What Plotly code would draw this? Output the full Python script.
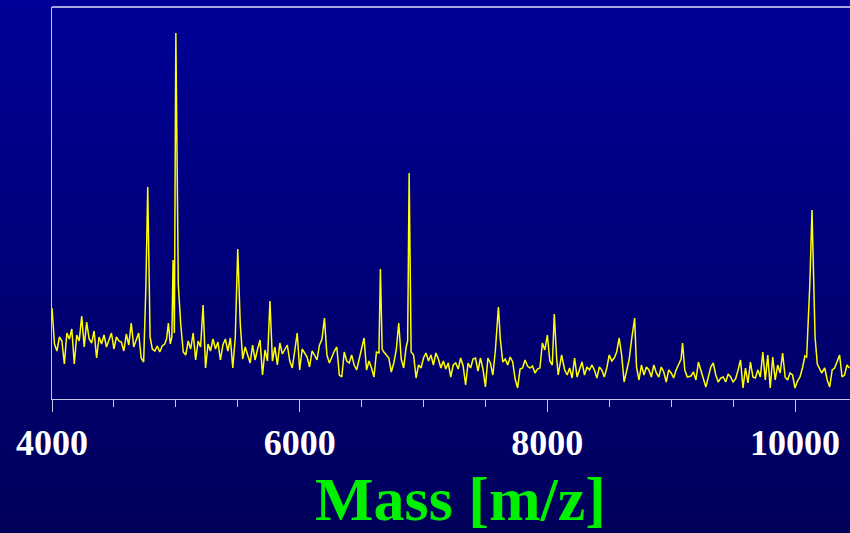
import plotly.graph_objects as go

# ---- data: mass spectrum (m/z vs relative intensity, arbitrary units) ----
MASS_1 = [4000, 4020, 4040, 4060, 4080, 4100, 4120, 4140, 4160, 4180, 4200, 4220, 4240, 4260,
          4280, 4300, 4320, 4340, 4360, 4380, 4400, 4420, 4440, 4460, 4480, 4500, 4520, 4540,
          4560, 4580, 4600, 4620, 4640, 4660, 4680, 4700, 4720, 4740]
INT_1 = [91, 55, 48, 62, 58, 35, 66, 60, 70, 35, 64, 58, 83, 52,
         77, 60, 56, 68, 41, 62, 55, 64, 52, 60, 66, 50, 62, 58,
         57, 48, 65, 54, 76, 52, 60, 66, 41, 37]

MASS_2 = [4758, 4773, 4792, 4810, 4830, 4850, 4870, 4890, 4910, 4925, 4940, 4955, 4968, 4978,
          4988, 5000, 5020, 5040, 5060, 5080, 5100, 5120, 5140, 5160, 5180, 5200, 5220, 5240, 5260]
INT_2 = [111, 212, 62, 50, 48, 53, 47, 53, 55, 60, 76, 55, 62, 139,
         66, 366, 114, 74, 47, 44, 58, 50, 66, 39, 58, 52, 94, 31, 55]

MASS_3 = [5280, 5300, 5320, 5340, 5360, 5380, 5400, 5420, 5440, 5460, 5480, 5500, 5520, 5540,
          5560, 5580, 5600, 5620, 5640, 5660, 5680, 5700, 5720, 5740, 5760, 5780, 5800, 5820,
          5840, 5860, 5880, 5900, 5920, 5940, 5960, 5980, 6000, 6020, 6040, 6060, 6080, 6100,
          6120, 6140, 6160, 6180, 6200, 6220, 6240, 6260, 6280, 6300, 6320, 6340, 6360, 6380,
          6400, 6420, 6440, 6460, 6480, 6500, 6520, 6540, 6560, 6580, 6600, 6620, 6640]
INT_3 = [48, 60, 50, 57, 39, 54, 60, 48, 61, 31, 62, 150, 76, 40,
         52, 44, 36, 54, 39, 50, 59, 24, 49, 38, 98, 38, 52, 34,
         56, 45, 50, 54, 38, 31, 48, 66, 29, 50, 46, 42, 32, 48,
         44, 39, 54, 60, 81, 44, 36, 42, 48, 52, 24, 22, 47, 38,
         36, 44, 34, 29, 40, 50, 61, 29, 38, 31, 22, 47, 46]

MASS_4 = [6652, 6666, 6680, 6700, 6720, 6740, 6760, 6780, 6800, 6820, 6840, 6860, 6872, 6884,
          6900, 6920, 6940, 6960, 6980, 7000, 7020, 7040, 7060, 7080, 7100, 7120, 7140, 7160,
          7180, 7200, 7220, 7240, 7260, 7280, 7300, 7320, 7340, 7360, 7380, 7400, 7420, 7440,
          7460, 7480, 7500, 7520, 7540, 7560, 7580, 7605, 7620, 7640, 7660, 7680, 7700, 7720,
          7740, 7760, 7780, 7800, 7820, 7840]
INT_4 = [130, 50, 47, 44, 41, 27, 36, 49, 76, 40, 31, 52, 58, 226,
         47, 44, 21, 34, 31, 41, 46, 38, 44, 34, 46, 40, 31, 38,
         30, 36, 22, 34, 36, 30, 41, 33, 14, 36, 31, 40, 41, 28,
         41, 30, 12, 41, 36, 24, 48, 92, 60, 37, 40, 34, 42, 37,
         20, 11, 30, 31, 39, 33]

MASS_5 = [7860, 7880, 7900, 7920, 7940, 7960, 7980, 8000, 8020, 8040, 8056, 8075, 8088, 8115,
          8140, 8160, 8180, 8200, 8220, 8240, 8260, 8280, 8300, 8320, 8340, 8360, 8380, 8400,
          8420, 8440, 8460, 8480, 8500, 8520, 8540, 8560, 8580, 8600, 8620, 8640, 8660, 8680,
          8705, 8720, 8740, 8760, 8780, 8800, 8820, 8840, 8860, 8880, 8900, 8920, 8940, 8960,
          8980, 9000, 9020, 9040, 9060, 9080, 9092, 9110, 9130]
INT_5 = [31, 33, 26, 30, 31, 56, 49, 64, 38, 34, 85, 41, 24, 44,
         29, 24, 31, 21, 41, 22, 30, 37, 24, 32, 29, 34, 29, 21,
         32, 29, 22, 31, 44, 38, 41, 47, 61, 44, 17, 29, 39, 59,
         81, 32, 19, 34, 24, 32, 29, 22, 34, 26, 22, 32, 27, 17,
         29, 26, 21, 29, 34, 40, 56, 29, 22]

MASS_6 = [9160, 9180, 9200, 9220, 9240, 9260, 9280, 9300, 9320, 9340, 9360, 9380, 9400, 9420,
          9440, 9460, 9480, 9500, 9520, 9540, 9560, 9580, 9600, 9620, 9640, 9660, 9680, 9700,
          9720, 9740, 9760, 9780, 9800, 9820, 9840, 9860, 9880, 9900, 9920, 9940, 9960, 9980,
          10000, 10020, 10040, 10060, 10080, 10094, 10120, 10137, 10162, 10180, 10195, 10215,
          10240, 10260, 10280, 10300, 10320, 10340, 10360, 10380, 10400, 10420, 10440]
INT_6 = [23, 27, 19, 37, 28, 21, 12, 22, 32, 36, 24, 17, 21, 22,
         17, 25, 22, 17, 20, 29, 39, 11, 31, 16, 37, 22, 21, 29,
         22, 47, 19, 44, 11, 42, 19, 34, 26, 46, 22, 19, 26, 24,
         11, 18, 22, 31, 43, 42, 116, 189, 62, 35, 31, 26,
         31, 19, 12, 29, 31, 38, 44, 22, 24, 34, 31]

MASS = MASS_1 + MASS_2 + MASS_3 + MASS_4 + MASS_5 + MASS_6
INTENSITY = INT_1 + INT_2 + INT_3 + INT_4 + INT_5 + INT_6

X_RANGE = [4000, 10444]
Y_RANGE = [0, 392]
X_TITLE = "Mass [m/z]"

# ---- figure ----
W, H = 850, 533
ML, MR, MT, MB = 52, 0, 7, 134
plot_h = H - MT - MB

fig = go.Figure()
fig.add_trace(go.Scatter(x=MASS, y=INTENSITY, mode="lines",
                         line=dict(color="#FFFF00", width=1.5),
                         hoverinfo="skip"))

# vertical background gradient (paper coords, covers whole page)
shapes = []
n_bands = 107
top_c, bot_c = 152, 90
for k in range(n_bands):
    p0 = k * H / n_bands
    p1 = (k + 1) * H / n_bands + 0.6
    t = (k + 0.5) / n_bands
    b = round(top_c + (bot_c - top_c) * t)
    shapes.append(dict(type="rect", xref="paper", yref="paper",
                       x0=-ML / (W - ML - MR) - 0.01, x1=1.01,
                       y0=(H - MB - p1) / plot_h, y1=(H - MB - p0) / plot_h,
                       fillcolor=f"rgb(0,0,{b})", line=dict(width=0), layer="below"))
# top frame line
shapes.append(dict(type="line", xref="paper", yref="paper", x0=0, x1=1, y0=1, y1=1,
                   line=dict(color="#A8A8DC", width=2), layer="above"))

axis_col = "#C8C8E6"
fig.update_layout(
    width=W, height=H,
    margin=dict(l=ML, r=MR, t=MT, b=MB, pad=0),
    paper_bgcolor="rgb(0,0,110)",
    plot_bgcolor="rgba(0,0,0,0)",
    showlegend=False,
    shapes=shapes,
    xaxis=dict(range=X_RANGE, showline=True, linecolor=axis_col, linewidth=1,
               ticks="outside", ticklen=12, tickwidth=1, tickcolor=axis_col,
               tick0=4000, dtick=2000, tickformat="d", showgrid=False, zeroline=False,
               tickfont=dict(family="Liberation Serif", size=36, color="white", weight="bold"),
               minor=dict(ticks="outside", ticklen=7, tickwidth=1, tickcolor=axis_col,
                          tick0=4000, dtick=500, showgrid=False)),
    yaxis=dict(range=Y_RANGE, showline=True, linecolor=axis_col, linewidth=1,
               showticklabels=False, ticks="", showgrid=False, zeroline=False),
    annotations=[dict(text=X_TITLE, xref="paper", yref="paper",
                      x=(460 - ML) / (W - ML - MR), y=(H - MB - 499) / plot_h,
                      xanchor="center", yanchor="middle", showarrow=False,
                      font=dict(family="Liberation Serif", size=62, color="#00F000",
                                weight="bold"))],
)

fig.write_html("out.html", config={"displayModeBar": False})
